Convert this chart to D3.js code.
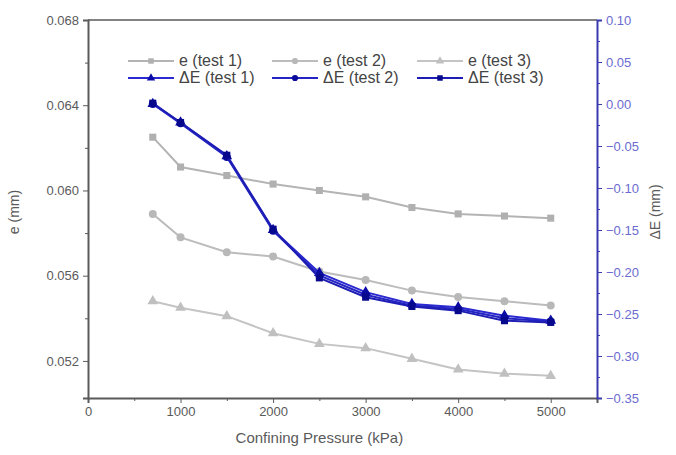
<!DOCTYPE html>
<html>
<head>
<meta charset="utf-8">
<script src="https://cdn.jsdelivr.net/npm/d3@7"></script>
<style>
  body { margin: 0; background: #fff; }
  svg { display: block; font-family: "Liberation Sans", Arial, sans-serif; }
</style>
</head>
<body>
<svg id="chart" width="676" height="455"></svg>
<script>
// confining pressure (kPa)
var pressures = [700, 1000, 1500, 2000, 2500, 3000, 3500, 4000, 4500, 5000];

// e (mm), left axis
var eTest1 = [0.0625, 0.0611, 0.0607, 0.0603, 0.0600, 0.0597, 0.0592, 0.0589, 0.0588, 0.0587];
var eTest2 = [0.0589, 0.0578, 0.0571, 0.0569, 0.0562, 0.0558, 0.0553, 0.0550, 0.0548, 0.0546];
var eTest3 = [0.0548, 0.0545, 0.0541, 0.0533, 0.0528, 0.0526, 0.0521, 0.0516, 0.0514, 0.0513];

// delta E (mm), right axis
var dETest1 = [0.000, -0.022, -0.062, -0.150, -0.201, -0.224, -0.238, -0.242, -0.252, -0.258];
var dETest2 = [0.000, -0.023, -0.063, -0.151, -0.204, -0.227, -0.240, -0.244, -0.255, -0.259];
var dETest3 = [0.001, -0.022, -0.061, -0.149, -0.207, -0.230, -0.241, -0.246, -0.258, -0.260];

var xTicks = [0, 1000, 2000, 3000, 4000, 5000];
var leftTicks = [0.052, 0.056, 0.060, 0.064, 0.068];
var rightTicks = [0.10, 0.05, 0.00, -0.05, -0.10, -0.15, -0.20, -0.25, -0.30, -0.35];

var svg = d3.select("svg#chart");

let margin = {top: 20, right: 79, bottom: 57, left: 88};
let width = 676, height = 455;

let x = d3.scaleLinear().domain([0, 5500]).range([margin.left, width - margin.right]);
let yL = d3.scaleLinear().domain([0.05026, 0.068]).range([height - margin.bottom, margin.top]);
let yR = d3.scaleLinear().domain([-0.35, 0.10]).range([height - margin.bottom, margin.top]);

var grey = "#5a5a5a";
var blueAxis = "#3a3ab0";
var blueText = "#6b6bd0";

// top frame line
svg.append("line")
    .attr("x1", x(0)).attr("x2", x(5500))
    .attr("y1", margin.top).attr("y2", margin.top)
    .attr("stroke", grey).attr("stroke-width", 1.5);

// minor ticks
var xMinor = d3.axisBottom(x).tickValues([500, 1500, 2500, 3500, 4500]).tickSize(3).tickFormat("");
svg.append("g").attr("transform", "translate(0," + (height - margin.bottom) + ")")
    .call(xMinor).call(g => g.select(".domain").remove())
    .selectAll("line").attr("stroke", grey);

var lMinor = d3.axisLeft(yL).tickValues([0.054, 0.058, 0.062, 0.066]).tickSize(3).tickFormat("");
svg.append("g").attr("transform", "translate(" + margin.left + ",0)")
    .call(lMinor).call(g => g.select(".domain").remove())
    .selectAll("line").attr("stroke", grey);

var rMinor = d3.axisRight(yR).tickValues(d3.range(-0.325, 0.1, 0.05)).tickSize(3).tickFormat("");
svg.append("g").attr("transform", "translate(" + (width - margin.right) + ",0)")
    .call(rMinor).call(g => g.select(".domain").remove())
    .selectAll("line").attr("stroke", blueAxis);

// x axis
var xAxis = d3.axisBottom(x).tickValues(xTicks).tickSize(5).tickPadding(4).tickFormat(d3.format("d"));
var xg = svg.append("g").attr("transform", "translate(0," + (height - margin.bottom) + ")").call(xAxis);
xg.select(".domain").attr("stroke", grey).attr("stroke-width", 2);
xg.selectAll("line").attr("stroke", grey);
xg.selectAll("text").attr("fill", grey).style("font-size", "13px");

// left axis
var lAxis = d3.axisLeft(yL).tickValues(leftTicks).tickSize(5).tickPadding(4).tickFormat(d3.format(".3f"));
var lg = svg.append("g").attr("transform", "translate(" + margin.left + ",0)").call(lAxis);
lg.select(".domain").attr("stroke", grey).attr("stroke-width", 2);
lg.selectAll("line").attr("stroke", grey);
lg.selectAll("text").attr("fill", grey).style("font-size", "13px");

// right axis
var rAxis = d3.axisRight(yR).tickValues(rightTicks).tickSize(5).tickPadding(4).tickFormat(d3.format(".2f"));
var rg = svg.append("g").attr("transform", "translate(" + (width - margin.right) + ",0)").call(rAxis);
rg.select(".domain").attr("stroke", blueAxis).attr("stroke-width", 2);
rg.selectAll("line").attr("stroke", blueAxis);
rg.selectAll("text").attr("fill", blueText).style("font-size", "13px");

// axis titles
svg.append("text")
    .attr("x", (x(0) + x(5000)) / 2).attr("y", 443)
    .attr("text-anchor", "middle")
    .attr("fill", grey).style("font-size", "15px")
    .text("Confining Pressure (kPa)");

svg.append("text")
    .attr("transform", "translate(19,212) rotate(-90)")
    .attr("text-anchor", "middle")
    .attr("fill", grey).style("font-size", "14px")
    .text("e (mm)");

svg.append("text")
    .attr("transform", "translate(660,212) rotate(-90)")
    .attr("text-anchor", "middle")
    .attr("fill", grey).style("font-size", "14px")
    .text("\u0394E (mm)");

// series
var series = [
    {name: "e (test 1)", values: eTest1, y: yL, color: "#b4b4b4", mark: "#b0b0b0", sym: d3.symbolSquare},
    {name: "e (test 2)", values: eTest2, y: yL, color: "#bcbcbc", mark: "#b8b8b8", sym: d3.symbolCircle},
    {name: "e (test 3)", values: eTest3, y: yL, color: "#c4c4c4", mark: "#c0c0c0", sym: d3.symbolTriangle},
    {name: "\u0394E (test 1)", values: dETest1, y: yR, color: "#2a2ad0", mark: "#0a0aa8", sym: d3.symbolTriangle},
    {name: "\u0394E (test 2)", values: dETest2, y: yR, color: "#2424c4", mark: "#0a0a9c", sym: d3.symbolCircle},
    {name: "\u0394E (test 3)", values: dETest3, y: yR, color: "#1e1eb4", mark: "#08088c", sym: d3.symbolSquare}
];

series.forEach(function (s) {
    let line = d3.line()
        .x(function (d, i) { return x(pressures[i]); })
        .y(function (d) { return s.y(d); });

    svg.append("path")
        .datum(s.values)
        .attr("fill", "none")
        .attr("stroke", s.color)
        .attr("stroke-width", 2)
        .attr("d", line);

    svg.append("g").selectAll("path")
        .data(s.values)
        .enter().append("path")
        .attr("d", d3.symbol().type(s.sym).size(50))
        .attr("transform", function (d, i) { return "translate(" + x(pressures[i]) + "," + s.y(d) + ")"; })
        .attr("fill", s.mark);
});

// legend
var legendX = [128, 272, 417];
var legendY = [61, 78];
series.forEach(function (s, i) {
    let lx = legendX[i % 3];
    let ly = legendY[Math.floor(i / 3)];
    svg.append("line")
        .attr("x1", lx).attr("x2", lx + 46)
        .attr("y1", ly).attr("y2", ly)
        .attr("stroke", s.color).attr("stroke-width", 2);
    svg.append("path")
        .attr("d", d3.symbol().type(s.sym).size(30))
        .attr("transform", "translate(" + (lx + 23) + "," + ly + ")")
        .attr("fill", s.mark);
    svg.append("text")
        .attr("x", lx + 51).attr("y", ly + 5)
        .attr("fill", "#444")
        .style("font-size", "16px")
        .text(s.name);
});
</script>
</body>
</html>
